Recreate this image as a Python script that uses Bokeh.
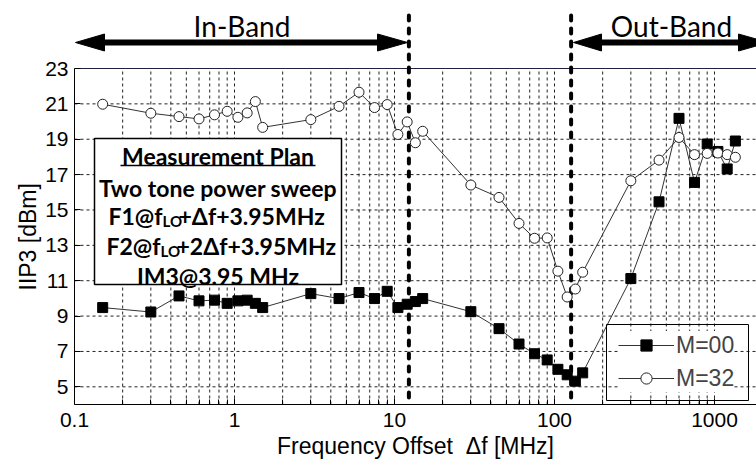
import numpy as np
from bokeh.plotting import figure
from bokeh.models import (FixedTicker, Range1d, Label, Title,
                          BoxAnnotation, Legend, LegendItem)
from bokeh.embed import file_html
from bokeh.resources import INLINE

# ---------------- data ----------------
freq_mhz = [0.15, 0.3, 0.45, 0.6, 0.75, 0.9, 1.05, 1.2, 1.35, 1.5,
            3, 4.5, 6, 7.5, 9, 10.5, 12, 13.5, 15,
            30, 45, 60, 75, 90, 105, 120, 135, 150,
            300, 450, 600, 750, 900, 1050, 1200, 1350]
iip3_m00 = [9.48, 9.23, 10.14, 9.86, 9.9, 9.72, 9.86, 9.9, 9.72, 9.48,
            10.27, 9.99, 10.33, 9.99, 10.4, 9.48, 9.67, 9.82, 9.99,
            9.25, 8.29, 7.42, 6.87, 6.52, 5.99, 5.68, 5.32, 5.79,
            11.12, 15.46, 20.18, 16.56, 18.73, 18.31, 17.32, 18.9]
iip3_m32 = [20.98, 20.47, 20.28, 20.15, 20.38, 20.58, 20.24, 20.49, 21.13, 19.67,
            20.11, 20.86, 21.66, 20.79, 20.96, 19.27, 19.98, 18.8, 19.45,
            16.41, 15.71, 14.24, 13.4, 13.42, 11.54, 10.08, 10.53, 11.48,
            16.65, 17.82, 19.1, 18.13, 18.2, 18.22, 18.13, 17.98]
series_names = ["M=00", "M=32"]
x_major_ticks = [0.1, 1, 10, 100, 1000]
x_tick_labels = ["0.1", "1", "10", "100", "1000"]
y_ticks = [5, 7, 9, 11, 13, 15, 17, 19, 21, 23]
band_edges_mhz = [12.3, 127]
band_names = ["In-Band", "Out-Band"]
plan_lines = ["Measurement Plan", "Two tone power sweep", "IM3@3.95 MHz"]

# ---------------- layout ----------------
W, H = 756, 466
FL, FB = 74, 62
PT = 68                       # page y of the top of the data area (23 dBm)
FW = W - FL
PB = H - FB                   # page y of the bottom of the data area
X0, X1 = 0.1, 1830.0
Y0, Y1 = 4.0, 23.0
DEC = FW / np.log10(X1 / X0)
YPX = (PB - PT) / (Y1 - Y0)   # pixels per dB


def px2x(px):
    return X0 * 10 ** ((px - FL) / DEC)


def py2y(py):
    return Y1 - (py - PT) / YPX


YTOP = py2y(0)                # frame reaches to the top of the page (band arrows)

AX_FONT = "Liberation Sans"
BOX_FONT = "Lato"
LC = "#333333"
GRID = dict(line_color="#222222", line_width=1, line_dash="3 3")
DOT = dict(line_color="black", line_width=4, line_dash="5 8", line_cap="round")

p = figure(width=W, height=H, x_axis_type="log",
           x_range=Range1d(X0, X1), y_range=Range1d(Y0, YTOP),
           output_backend="svg", toolbar_location=None,
           min_border_left=FL, min_border_right=0,
           min_border_top=0, min_border_bottom=FB)
p.outline_line_color = None
p.background_fill_color = "white"
p.border_fill_color = "white"
p.xgrid.visible = False
p.ygrid.visible = False

minor = [m * 10.0 ** k for k in range(-1, 4) for m in range(2, 10)]
p.xaxis.ticker = FixedTicker(ticks=x_major_ticks, minor_ticks=minor)
p.xaxis.major_label_overrides = {t: s for t, s in zip(x_major_ticks, x_tick_labels)}
p.yaxis.ticker = FixedTicker(ticks=y_ticks)
p.yaxis.bounds = (Y0, Y1)

for ax in (p.xaxis[0], p.yaxis[0]):
    ax.axis_line_color = "black"
    ax.axis_line_width = 1
    ax.major_tick_in = 6
    ax.major_tick_out = 0
    ax.minor_tick_in = 5
    ax.minor_tick_out = 0
    ax.major_tick_line_color = "black"
    ax.minor_tick_line_color = "black"
    ax.major_label_text_font = AX_FONT
    ax.major_label_text_font_size = "21px"
    ax.major_label_text_color = "black"
    ax.axis_label_text_font = AX_FONT
    ax.axis_label_text_font_style = "normal"
    ax.axis_label_text_color = "black"

p.xaxis.axis_label = "Frequency Offset \u00a0\u0394f [MHz]"
p.xaxis.axis_label_text_font_size = "23px"
p.xaxis.major_label_standoff = 8
p.xaxis.axis_label_standoff = 3
p.yaxis.major_label_standoff = 6

# y axis title, centred on the data area (not on the taller frame)
p.add_layout(Title(text="IIP3 [dBm]", align="left", offset=PB - 290,
                   text_font=AX_FONT, text_font_size="23px",
                   text_font_style="normal", text_color="black",
                   standoff=4), "left")

# dashed grid, limited to the data area
gx = x_major_ticks + minor
p.segment(x0=gx, y0=[Y0] * len(gx), x1=gx, y1=[Y1] * len(gx), **GRID)
gy = y_ticks[:-1]
p.segment(x0=[X0] * len(gy), y0=gy, x1=[X1] * len(gy), y1=gy, **GRID)
# top border of the data area
p.segment(x0=[X0], y0=[Y1], x1=[X1], y1=[Y1], line_color="#202040", line_width=1)

# band edges
p.segment(x0=band_edges_mhz, y0=[py2y(15)] * 2, x1=band_edges_mhz, y1=[Y0] * 2, **DOT)

# band arrows
arrow_y = py2y(42)
half = 8.5 / YPX
shafts = [(100, 385), (595, 745)]
p.segment(x0=[px2x(a) for a, b in shafts], y0=[arrow_y] * 2,
          x1=[px2x(b) for a, b in shafts], y1=[arrow_y] * 2,
          line_color="black", line_width=6)
heads = [(75, 104), (407, 377), (573, 601), (768, 738)]   # (tip, base) in px
p.patches(xs=[[px2x(t), px2x(b), px2x(b)] for t, b in heads],
          ys=[[arrow_y, arrow_y - half, arrow_y + half] for t, b in heads],
          fill_color="black", line_color="black", line_width=1)
p.add_layout(Label(x=px2x(241.5), y=py2y(25), text=band_names[0],
                   text_align="center", text_baseline="middle",
                   text_font=BOX_FONT, text_font_size="28px", text_color="black"))
p.add_layout(Label(x=px2x(671), y=py2y(25), text=band_names[1],
                   text_align="center", text_baseline="middle",
                   text_font=BOX_FONT, text_font_size="28px", text_color="black"))

# ---------------- series ----------------
r0l = p.line(freq_mhz, iip3_m00, line_color=LC, line_width=1)
r0s = p.scatter(freq_mhz, iip3_m00, marker="square", size=10,
                fill_color="black", line_color="black")
r1l = p.line(freq_mhz, iip3_m32, line_color=LC, line_width=1)
r1s = p.scatter(freq_mhz, iip3_m32, marker="circle", size=10,
                fill_color="white", line_color="#222222", line_width=1)

legend = Legend(items=[LegendItem(label=series_names[0], renderers=[r0l, r0s]),
                       LegendItem(label=series_names[1], renderers=[r1l, r1s])],
                location=(544, 12), orientation="vertical",
                glyph_width=56, glyph_height=28, label_height=28,
                label_standoff=2, spacing=5, padding=8, margin=0,
                label_text_font=AX_FONT, label_text_font_size="23px",
                border_line_color=None,
                background_fill_color="white", background_fill_alpha=1)
p.add_layout(legend)
# legend frame
p.add_layout(BoxAnnotation(left=px2x(606), right=px2x(748),
                           top=py2y(324), bottom=py2y(400),
                           fill_alpha=0, line_color="black", line_alpha=1,
                           line_width=1))

# ---------------- measurement plan box ----------------
p.add_layout(BoxAnnotation(left=px2x(94), right=px2x(341),
                           top=py2y(138), bottom=py2y(284),
                           fill_color="white", fill_alpha=1,
                           line_color="black", line_alpha=1, line_width=1.5))
BX = 217.5


def box_label(px, py, text, align="center", size="23px"):
    p.add_layout(Label(x=px2x(px), y=py2y(py), text=text,
                       text_align=align, text_baseline="middle",
                       text_font=BOX_FONT, text_font_style="bold",
                       text_font_size=size, text_color="black"))


box_label(BX, 155, plan_lines[0])
p.add_layout(BoxAnnotation(left=px2x(120), right=px2x(315),
                           top=py2y(164.2), bottom=py2y(165.8),
                           fill_color="black", fill_alpha=1, line_alpha=0))
box_label(BX, 187, plan_lines[1])
# F1 line with subscript
box_label(162, 215, "F1@f", align="right")
box_label(162, 220, "LO", align="left", size="15px")
box_label(178, 215, "+\u0394f+3.95MHz", align="left")
# F2 line with subscript
box_label(160, 245, "F2@f", align="right")
box_label(160, 250, "LO", align="left", size="15px")
box_label(176, 245, "+2\u0394f+3.95MHz", align="left")
box_label(BX, 275, plan_lines[2])

open("out.html", "w").write(file_html(p, INLINE))
